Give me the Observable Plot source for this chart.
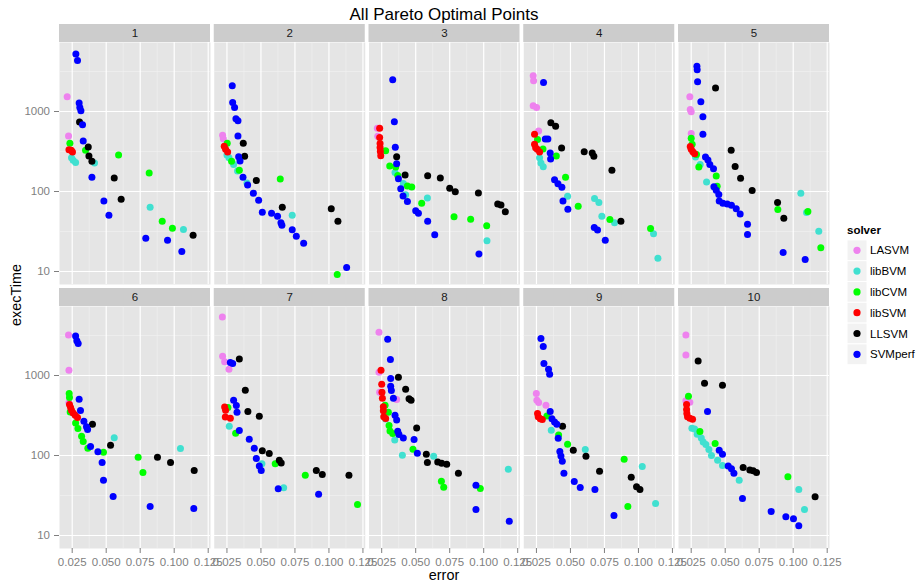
<!DOCTYPE html>
<html><head><meta charset="utf-8">
<script src="https://cdn.jsdelivr.net/npm/d3@7"></script>
<script src="https://cdn.jsdelivr.net/npm/@observablehq/plot@0.6"></script>
<style>
body{margin:0;background:#fff;font-family:"Liberation Sans",Arial,Helvetica,sans-serif;}
#wrap{position:relative;width:918px;height:582px;overflow:hidden;}
#chart{position:absolute;left:0;top:0;}
#overlay{position:absolute;left:0;top:0;pointer-events:none;}
</style></head><body>
<div id="wrap"><div id="chart"></div></div>
<script>
// ---- data: [panel, error, execTime] ----
const solvers = ["LASVM","libBVM","libCVM","libSVM","LLSVM","SVMperf"];
const solverColors = ["#EE82EE","#40E0D0","#00FF00","#FF0000","#000000","#0000FF"];
const panels = [1,2,3,4,5,6,7,8,9,10];
const xTicks = [0.025,0.05,0.075,0.1,0.125];
const xMinor = [0.0375,0.0625,0.0875,0.1125];
const yTicks = [10,100,1000];
const yMinor = [31.62,316.2,3162];

const lasvm = [
[1,0.0213,1528],[1,0.0223,495],
[2,0.0218,505],[2,0.0223,458],
[3,0.0218,619],[3,0.0221,492],
[4,0.0226,2806],[4,0.0229,2427],[4,0.0226,1178],[4,0.0251,1122],[4,0.0266,571],
[5,0.0240,1528],[5,0.0243,1059],[5,0.025,991],[5,0.025,530],
[6,0.0223,3200],[6,0.0226,1166],[6,0.0226,455],
[7,0.0216,5380],[7,0.0218,1746],[7,0.0233,1484],[7,0.0265,1200],
[8,0.0230,3480],[8,0.0230,1101],[8,0.0235,619],[8,0.0360,501],
[9,0.0249,596],[9,0.0253,491],[9,0.0266,459],[9,0.0320,425],
[10,0.0211,3200],[10,0.0211,1798],[10,0.0211,482],[10,0.0240,464]];

const libBVM = [
[1,0.0245,265],[1,0.0257,245],[1,0.0275,231],[1,0.0414,227],[1,0.0823,63.5],[1,0.1068,33.6],
[2,0.025,286],[2,0.0265,265],[2,0.0299,218],[2,0.0328,180],[2,0.0397,128],[2,0.0730,50.5],
[3,0.0348,173],[3,0.0409,126],[3,0.0426,91],[3,0.0586,83],[3,0.1024,24.2],
[4,0.0273,265],[4,0.0283,227],[4,0.0300,204],[4,0.0479,87],[4,0.0677,82],[4,0.0709,73],[4,0.0731,49],[4,0.0824,40.8],[4,0.1111,29.7],[4,0.1143,14.6],
[5,0.0282,270],[5,0.0316,218],[5,0.0363,131],[5,0.1056,95],[5,0.1098,54.5],[5,0.1188,31.8],
[6,0.0559,167],[6,0.1046,122],
[7,0.0267,232],[7,0.0507,79],[7,0.0667,39.5],
[8,0.0279,285],[8,0.0346,156],[8,0.0402,101],[8,0.0632,98],[8,0.1181,67.5],
[9,0.0359,207],[9,0.0609,119],[9,0.1028,73],[9,0.1126,25.2],
[10,0.0255,219],[10,0.0275,215],[10,0.0294,184],[10,0.0324,166],[10,0.0338,148],[10,0.0358,137],[10,0.0380,119],[10,0.0399,100],[10,0.0444,87],[10,0.0480,75],[10,0.0603,48.9],[10,0.1041,37.7],[10,0.1083,21.2]];

const libCVM = [
[1,0.0233,401],[1,0.0348,327],[1,0.0591,286],[1,0.0816,170],[1,0.0912,42.5],[1,0.0987,34.7],
[2,0.0252,401],[2,0.0284,238],[2,0.0341,185],[2,0.0642,143],[2,0.1061,9.2],
[3,0.0279,322],[3,0.0309,209],[3,0.0353,203],[3,0.0368,158],[3,0.0439,117],[3,0.0471,114],[3,0.0544,71.5],[3,0.0782,48.2],[3,0.0904,45],[3,0.1022,37.2],
[4,0.0258,446],[4,0.0298,340],[4,0.0396,278],[4,0.0464,151],[4,0.0557,65.5],[4,0.0790,44.6],[4,0.1089,34.4],
[5,0.025,462],[5,0.0257,389],[5,0.0289,291],[5,0.0306,202],[5,0.0434,156],[5,0.0441,116],[5,0.0887,59.4],[5,0.1108,56.1],[5,0.1203,19.8],
[6,0.0228,596],[6,0.0230,530],[6,0.0235,351],[6,0.0275,255],[6,0.0292,217],[6,0.0319,174],[6,0.0331,150],[6,0.0365,123],[6,0.0480,110],[6,0.0735,95],[6,0.0770,61.5],
[7,0.0257,397],[7,0.0314,190],[7,0.0605,79],[7,0.0826,56.5],[7,0.1210,24.4],
[8,0.0275,425],[8,0.0299,348],[8,0.0304,237],[8,0.0311,203],[8,0.0331,188],[8,0.0480,120],[8,0.0689,47.8],[8,0.0706,40.2],[8,0.0975,38.7],
[9,0.0327,312],[9,0.0413,181],[9,0.0479,138],[9,0.0895,89.6],[9,0.0922,23.1],
[10,0.0230,551],[10,0.0314,199],[10,0.0426,141],[10,0.0961,54.3]];

const libSVM = [
[1,0.0226,333],[1,0.0243,327],[1,0.0252,312],
[2,0.0230,367],[2,0.0240,337],[2,0.0255,312],
[3,0.0235,619],[3,0.0235,473],[3,0.0238,398],[3,0.0238,355],[3,0.0240,316],[3,0.0243,279],
[4,0.0236,519],[4,0.0236,389],[4,0.0244,353],[4,0.0256,337],[4,0.0273,312],
[5,0.0243,364],[5,0.025,337],[5,0.0262,315],[5,0.0275,297],
[6,0.0230,433],[6,0.0238,397],[6,0.0245,368],[6,0.0257,340],[6,0.0272,318],[6,0.0289,298],
[7,0.0233,405],[7,0.0240,368],[7,0.0238,303],[7,0.0275,292],
[8,0.0245,1166],[8,0.025,779],[8,0.0252,619],[8,0.0255,521],[8,0.0262,406],[8,0.0262,362],[8,0.0265,304],[8,0.0279,290],
[9,0.0258,334],[9,0.0263,304],[9,0.0278,287],[9,0.0293,281],
[10,0.0216,433],[10,0.0216,375],[10,0.0218,334],[10,0.0223,304],[10,0.0240,292],[10,0.0260,284]];

const llsvm = [
[1,0.0304,741],[1,0.0368,360],[1,0.0373,278],[1,0.0395,238],[1,0.0559,147],[1,0.0610,80],[1,0.1139,28.3],
[2,0.0370,401],[2,0.0380,275],[2,0.0466,137],[2,0.0657,63.5],[2,0.1017,61],[2,0.1066,42.5],
[3,0.0360,271],[3,0.0422,161],[3,0.0588,157],[3,0.0681,148],[3,0.0750,110],[3,0.0791,99],[3,0.0961,96],[3,0.1103,70],[3,0.1127,68],[3,0.1159,55.7],
[4,0.0356,721],[4,0.0391,655],[4,0.0435,350],[4,0.0601,315],[4,0.0660,303],[4,0.0672,275],[4,0.0805,185],[4,0.0871,42.5],
[5,0.0429,1963],[5,0.0544,327],[5,0.0573,206],[5,0.0613,146],[5,0.0698,103],[5,0.0885,72.8],[5,0.0931,46.2],
[6,0.0399,245],[6,0.0532,134],[6,0.0877,95],[6,0.0973,82],[6,0.1147,65],
[7,0.0341,1603],[7,0.0385,655],[7,0.0404,354],[7,0.0488,310],[7,0.0510,115],[7,0.0561,106],[7,0.0635,87],[7,0.0649,80.5],[7,0.0907,65],[7,0.0951,58],[7,0.1147,56.5],
[8,0.0373,953],[8,0.0426,674],[8,0.0451,511],[8,0.0466,492],[8,0.0507,220],[8,0.0578,104],[8,0.0586,82],[8,0.0662,83],[8,0.0691,80],[8,0.0728,78],[8,0.0814,60],
[9,0.0442,232],[9,0.0521,116],[9,0.0614,97.7],[9,0.0714,63.4],[9,0.0947,53.3],[9,0.0986,40.7],[9,0.1011,37.7],
[10,0.0301,1513],[10,0.0348,802],[10,0.0480,757],[10,0.0632,71],[10,0.0681,65.8],[10,0.0706,64.5],[10,0.0730,61.5],[10,0.1161,30.5]];

const svmperf = [
[1,0.0277,5250],[1,0.0289,4325],[1,0.0301,1273],[1,0.0306,1122],[1,0.0314,1019],[1,0.0326,681],[1,0.0331,428],[1,0.0395,151],[1,0.0483,76],[1,0.0520,50.5],[1,0.0791,26],[1,0.0951,24.5],[1,0.1056,17.8],
[2,0.0289,2100],[2,0.0292,1297],[2,0.0306,1122],[2,0.0316,809],[2,0.0331,764],[2,0.0331,495],[2,0.0336,272],[2,0.0346,240],[2,0.0368,151],[2,0.0402,121],[2,0.0444,95],[2,0.0483,78],[2,0.0510,55],[2,0.0578,53.5],[2,0.0622,49],[2,0.0647,40.8],[2,0.0654,37.8],[2,0.0730,33.3],[2,0.0760,27.5],[2,0.0814,22.5],[2,0.1130,11.2],
[3,0.0331,2490],[3,0.0343,743],[3,0.0350,358],[3,0.0360,222],[3,0.0373,144],[3,0.0390,108],[3,0.0407,88],[3,0.0439,75],[3,0.0500,57.3],[3,0.0520,53.6],[3,0.0588,42.6],[3,0.0640,28.7],[3,0.0965,16.6],
[4,0.0302,2312],[4,0.0315,454],[4,0.0334,454],[4,0.0351,303],[4,0.0354,255],[4,0.0383,140],[4,0.0408,125],[4,0.0437,113],[4,0.0445,76],[4,0.0481,60],[4,0.0675,35.6],[4,0.0699,33],[4,0.0756,24.5],
[5,0.0292,3670],[5,0.0294,3335],[5,0.0297,2355],[5,0.0321,1322],[5,0.0336,857],[5,0.0336,519],[5,0.0355,270],[5,0.0373,247],[5,0.0387,218],[5,0.0414,193],[5,0.0417,115],[5,0.0434,104],[5,0.0453,92],[5,0.0456,76],[5,0.0483,71.4],[5,0.0515,70],[5,0.0546,67.3],[5,0.0581,61],[5,0.0610,52.5],[5,0.0664,38.9],[5,0.0664,29.1],[5,0.0926,17.3],[5,0.1088,14.1],
[6,0.0275,3110],[6,0.0284,2717],[6,0.0294,2515],[6,0.0301,506],[6,0.0311,365],[6,0.0336,268],[6,0.0355,228],[6,0.0363,211],[6,0.0385,130],[6,0.0439,111],[6,0.0470,82],[6,0.0480,48.9],[6,0.0551,30.8],[6,0.0823,23.1],[6,0.1144,21.8],
[7,0.0275,1455],[7,0.0292,1413],[7,0.0299,491],[7,0.0319,421],[7,0.0324,347],[7,0.0341,205],[7,0.0414,160],[7,0.0451,123],[7,0.0466,92],[7,0.0488,74],[7,0.0502,65],[7,0.0627,38.5],[7,0.0924,32.7],
[8,0.0294,2846],[8,0.0314,1585],[8,0.0316,917],[8,0.0316,736],[8,0.0321,650],[8,0.0336,521],[8,0.0348,319],[8,0.0360,277],[8,0.0368,201],[8,0.0377,183],[8,0.0409,165],[8,0.0488,158],[8,0.0512,107],[8,0.0943,42.6],[8,0.0943,21.1],[8,0.1188,15.1],
[9,0.0283,2904],[9,0.0300,2307],[9,0.0305,1413],[9,0.0339,1200],[9,0.0347,1040],[9,0.0351,354],[9,0.0364,289],[9,0.0383,263],[9,0.0400,245],[9,0.0410,164],[9,0.0422,112],[9,0.0430,98.6],[9,0.0440,84.5],[9,0.0452,59.8],[9,0.0528,47.4],[9,0.0572,39.9],[9,0.0680,37.7],[9,0.0820,17.8],
[10,0.0370,354],[10,0.0456,116],[10,0.0480,104],[10,0.0522,73.8],[10,0.0546,68.4],[10,0.0564,59.8],[10,0.0627,29.1],[10,0.0838,20],[10,0.0946,17.1],[10,0.1002,16.2],[10,0.1041,13.2]];

// ---- build table ----
const series = [lasvm, libBVM, libCVM, libSVM, llsvm, svmperf];
const rows = [];
series.forEach((arr, i) => arr.forEach(([p, e, t]) => rows.push({
  solver: solvers[i], panel: p, error: e, execTime: t, col: (p - 1) % 5, row: Math.floor((p - 1) / 5)
})));
const strips = panels.map(p => ({label: String(p), col: (p - 1) % 5, row: Math.floor((p - 1) / 5)}));

const FONT = '"Liberation Sans", Arial, Helvetica, sans-serif';
const xDomain = [0.01566, 0.12669];
const yDomain = [Math.pow(10, 0.8375), Math.pow(10, 3.8625)];
const stripTop = yDomain[1] * Math.pow(10, 18 / 80);
const stripMid = yDomain[1] * Math.pow(10, 9 / 80);

const chart = Plot.plot({
  width: 918, height: 582,
  marginLeft: 59, marginRight: 89, marginTop: 42, marginBottom: 34,
  style: {fontFamily: FONT, background: "transparent", overflow: "visible"},
  fx: {domain: [0,1,2,3,4], paddingInner: 3.75 / 154.75, paddingOuter: 0, round: false, axis: null},
  fy: {domain: [0,1], paddingInner: 22 / 264, paddingOuter: 0, round: false, axis: null},
  x: {domain: xDomain},
  y: {type: "log", domain: yDomain},
  color: {domain: solvers, range: solverColors},
  marks: [
    Plot.frame({fill: "#E5E5E5"}),
    Plot.gridX({ticks: xMinor, stroke: "#F2F2F2", strokeOpacity: 1, strokeWidth: 0.6}),
    Plot.gridY({ticks: yMinor, stroke: "#F2F2F2", strokeOpacity: 1, strokeWidth: 0.6}),
    Plot.gridX({ticks: xTicks, stroke: "#FFFFFF", strokeOpacity: 1, strokeWidth: 1.2}),
    Plot.gridY({ticks: yTicks, stroke: "#FFFFFF", strokeOpacity: 1, strokeWidth: 1.2}),
    Plot.rect(strips, {fx: "col", fy: "row", x1: () => xDomain[0], x2: () => xDomain[1], y1: () => yDomain[1], y2: () => stripTop, fill: "#CCCCCC"}),
    Plot.text(strips, {fx: "col", fy: "row", x: () => (xDomain[0] + xDomain[1]) / 2, y: () => stripMid, text: "label", fill: "#1A1A1A", fontSize: 11.5}),
    Plot.axisX({ticks: xTicks, tickFormat: d => d.toFixed(3), tickSize: 5, tickPadding: 4, stroke: "#7F7F7F", fill: "#7F7F7F", fontSize: 11.5, label: null}),
    Plot.axisY({ticks: yTicks, tickFormat: d => String(d), tickSize: 5, tickPadding: 4.5, stroke: "#7F7F7F", fill: "#7F7F7F", fontSize: 11.5, label: null}),
    Plot.dot(rows, {fx: "col", fy: "row", x: "error", y: "execTime", fill: "solver", r: 3.5})
  ]
});
document.getElementById("chart").appendChild(chart);

// ---- overlay texts: title, axis titles, legend ----
const ov = d3.select("#wrap").append("svg").attr("id", "overlay")
  .attr("width", 918).attr("height", 582).style("font-family", FONT);
ov.append("text").attr("x", 444).attr("y", 20).attr("text-anchor", "middle")
  .attr("font-size", 17).attr("fill", "#000").text("All Pareto Optimal Points");
ov.append("text").attr("x", 444).attr("y", 580).attr("text-anchor", "middle")
  .attr("font-size", 14.4).attr("fill", "#000").text("error");
ov.append("text").attr("transform", "translate(20.5,295) rotate(-90)").attr("text-anchor", "middle")
  .attr("font-size", 14.4).attr("fill", "#000").text("execTime");
ov.append("text").attr("x", 847).attr("y", 234).attr("font-size", 11.5)
  .attr("font-weight", "bold").attr("fill", "#000").text("solver");
solvers.forEach((s, i) => {
  const cy = 250.3 + 20.8 * i;
  ov.append("rect").attr("x", 847).attr("y", cy - 10.4).attr("width", 20).attr("height", 20.8)
    .attr("fill", "#F2F2F2").attr("stroke", "#FFFFFF").attr("stroke-width", 1);
  ov.append("circle").attr("cx", 857).attr("cy", cy).attr("r", 3.6).attr("fill", solverColors[i]);
  ov.append("text").attr("x", 870).attr("y", cy + 4).attr("font-size", 11.5).attr("fill", "#000").text(s);
});
</script>
</body></html>
